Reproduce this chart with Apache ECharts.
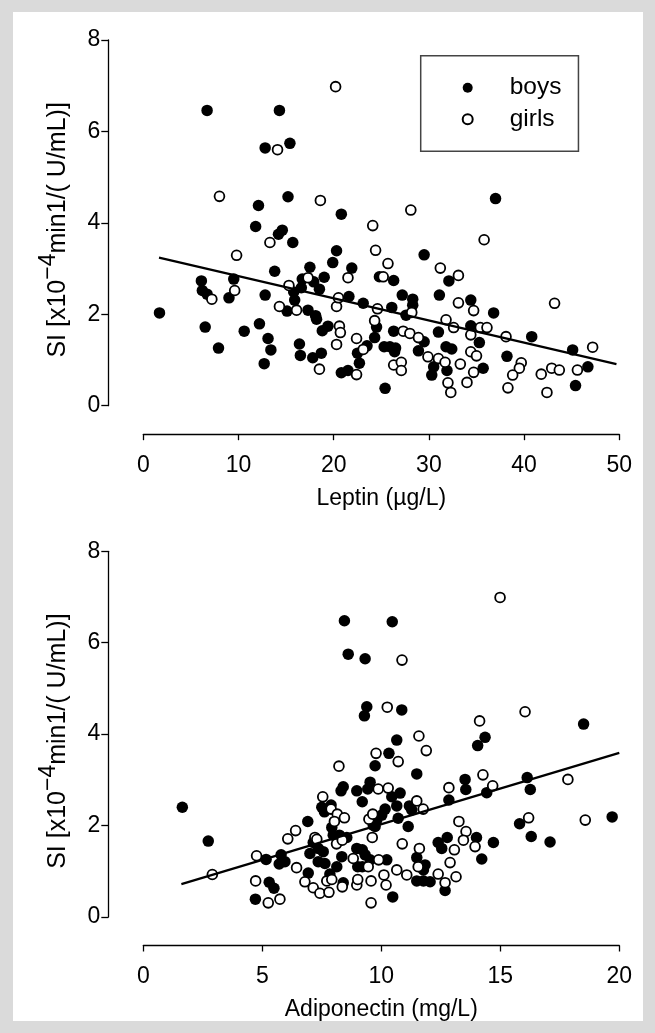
<!DOCTYPE html>
<html><head><meta charset="utf-8">
<script src="https://cdn.jsdelivr.net/npm/echarts@6/dist/echarts.min.js"></script>
<style>
html,body{margin:0;padding:0;background:#dadada;width:655px;height:1033px;overflow:hidden;}
#panel{position:absolute;left:13px;top:12px;width:630px;height:1009px;background:#fff;}
#chart{position:absolute;left:0;top:0;width:655px;height:1033px;}
</style></head><body>
<div id="panel"></div><div id="chart"></div>
<script>
const seriesNames = ['boys', 'girls'];
const leptinTitle = 'Leptin (µg/L)';
const adipoTitle = 'Adiponectin (mg/L)';

const leptinBoys = [
[6.7,6.46],[14.3,6.46],[12.8,5.64],[15.4,5.74],[12.1,4.38],[15.2,4.57],[20.8,4.19],[11.8,3.92],[14.6,3.84],[14.2,3.75],[37.0,4.53],[15.7,3.57],[20.3,3.39],[19.9,3.13],[13.8,2.94],[17.5,3.03],[21.9,3.01],[24.8,2.82],[19.0,2.81],[6.1,2.73],[9.5,2.77],[6.2,2.52],[6.7,2.44],[9.0,2.36],[12.8,2.42],[15.8,2.49],[15.9,2.31],[16.7,2.77],[17.9,2.71],[16.6,2.58],[18.5,2.55],[15.1,2.07],[17.3,2.09],[18.1,1.97],[18.2,1.89],[21.6,2.39],[23.1,2.24],[24.5,1.72],[1.7,2.03],[6.5,1.72],[10.6,1.63],[12.2,1.79],[7.9,1.26],[13.1,1.47],[13.4,1.22],[12.7,0.92],[16.4,1.35],[16.5,1.10],[17.8,1.05],[18.7,1.15],[18.8,1.64],[19.4,1.74],[23.5,1.31],[22.5,1.15],[24.3,1.49],[22.7,0.93],[20.8,0.72],[21.5,0.77],[29.5,3.30],[32.1,2.73],[26.3,2.74],[27.2,2.42],[28.3,2.33],[28.3,2.20],[31.1,2.42],[34.4,2.31],[36.8,2.03],[26.1,2.15],[27.6,1.98],[34.4,1.75],[31.0,1.61],[26.3,1.63],[29.5,1.40],[40.8,1.51],[45.1,1.22],[35.3,1.38],[25.3,1.29],[25.9,1.29],[26.5,1.26],[26.4,1.18],[28.9,1.20],[31.8,1.29],[32.4,1.24],[38.2,1.08],[30.5,0.85],[30.3,0.67],[31.9,0.77],[35.7,0.82],[46.7,0.85],[25.4,0.38],[45.4,0.44]
];
const leptinGirls = [
[20.2,6.98],[14.1,5.60],[8.0,4.58],[18.6,4.49],[24.1,3.94],[28.1,4.28],[13.3,3.57],[24.4,3.40],[9.8,3.29],[21.5,2.80],[9.6,2.52],[7.2,2.33],[15.3,2.63],[14.3,2.17],[16.1,2.09],[20.3,2.17],[20.5,2.36],[24.6,2.12],[24.3,1.86],[20.6,1.74],[20.7,1.60],[20.3,1.34],[18.5,0.80],[22.4,1.47],[23.1,1.23],[22.4,0.68],[35.8,3.63],[25.7,3.11],[31.2,3.01],[33.1,2.85],[25.2,2.82],[33.1,2.25],[34.7,2.08],[43.2,2.24],[28.2,2.04],[31.8,1.88],[32.6,1.71],[35.4,1.71],[36.1,1.71],[34.4,1.55],[27.3,1.63],[28.0,1.58],[28.9,1.49],[38.1,1.51],[47.2,1.28],[34.4,1.18],[35.0,1.09],[29.9,1.07],[31.0,1.03],[31.7,0.95],[33.3,0.91],[26.3,0.89],[27.1,0.95],[27.1,0.77],[34.7,0.73],[39.7,0.94],[39.5,0.82],[38.8,0.67],[41.8,0.69],[42.9,0.82],[43.7,0.78],[45.6,0.78],[32.0,0.50],[32.3,0.29],[34.0,0.51],[38.3,0.39],[42.4,0.29],[17.3,2.80]
];
const leptinFit = [[1.65,3.24],[49.7,0.91]];

const adipoBoys = [
[8.45,6.48],[8.61,5.75],[9.32,5.65],[9.39,4.60],[9.29,4.40],[10.46,6.46],[10.86,4.53],[18.5,4.22],[10.65,3.87],[14.36,3.93],[14.05,3.75],[9.74,3.31],[8.40,2.85],[8.31,2.76],[8.97,2.76],[9.53,2.95],[9.43,2.80],[9.20,2.52],[7.50,2.40],[7.61,2.30],[7.89,2.45],[6.91,2.09],[7.92,1.96],[7.98,1.79],[8.24,1.79],[8.55,1.74],[9.74,1.98],[7.14,1.63],[7.00,1.39],[7.35,1.50],[7.56,1.43],[7.63,1.17],[7.35,1.21],[8.34,1.32],[8.13,1.10],[8.97,1.50],[9.20,1.47],[9.32,1.36],[9.01,1.10],[9.20,1.10],[9.53,1.25],[7.84,0.94],[6.93,0.96],[8.40,0.75],[5.16,1.26],[5.79,1.36],[5.71,1.16],[5.95,1.21],[5.29,0.76],[5.49,0.63],[4.71,0.39],[1.64,2.40],[2.73,1.66],[10.32,3.58],[11.49,3.13],[13.52,3.01],[13.55,2.79],[16.13,3.05],[16.26,2.79],[14.43,2.72],[12.84,2.56],[10.79,2.71],[10.44,2.63],[10.65,2.43],[11.18,2.43],[11.28,2.34],[10.16,2.36],[10.02,2.23],[9.81,2.12],[9.66,2.01],[10.71,2.16],[11.13,1.98],[15.81,2.04],[19.70,2.19],[14.00,1.74],[14.71,1.63],[16.30,1.76],[17.09,1.64],[14.22,1.27],[12.77,1.74],[12.39,1.63],[12.54,1.50],[11.49,1.30],[11.84,1.14],[11.77,1.03],[11.49,0.79],[11.77,0.79],[12.05,0.77],[12.68,0.58],[10.23,1.25],[10.48,0.44]
];
const adipoGirls = [
[14.99,6.99],[10.87,5.62],[10.25,4.59],[14.13,4.29],[16.04,4.49],[11.58,3.96],[9.78,3.58],[8.22,3.30],[9.87,2.80],[7.54,2.63],[7.89,2.36],[8.15,2.25],[8.45,2.17],[8.03,2.09],[9.48,2.14],[9.64,2.25],[9.62,1.74],[6.40,1.89],[6.07,1.71],[7.21,1.74],[7.29,1.70],[8.12,1.60],[8.36,1.68],[8.82,1.28],[9.45,1.10],[9.89,1.25],[7.71,0.79],[7.92,0.82],[6.79,0.77],[6.44,1.08],[7.14,0.64],[7.42,0.52],[7.80,0.54],[8.36,0.66],[8.97,0.70],[9.01,0.82],[9.57,0.79],[9.57,0.31],[4.76,1.34],[4.72,0.79],[5.25,0.31],[5.74,0.39],[2.90,0.93],[11.89,3.64],[10.71,3.40],[14.27,3.11],[17.84,3.01],[12.84,2.83],[14.68,2.87],[10.29,2.82],[11.49,2.54],[11.76,2.36],[16.19,2.17],[18.57,2.12],[13.26,2.09],[13.56,1.87],[13.45,1.68],[13.94,1.54],[13.07,1.47],[12.89,1.19],[10.88,1.60],[11.60,1.50],[11.55,1.10],[12.39,0.94],[12.68,0.75],[13.14,0.88],[10.65,1.03],[11.07,0.92],[10.11,0.92],[10.20,0.70]
];
const adipoFit = [[1.6,0.72],[20.0,3.59]];

const FONT = "'Liberation Sans', Arial, Helvetica, sans-serif";
const INK = '#000';

function xAxisDef(gi, max, interval, title) {
  return {
    type: 'value', gridIndex: gi, min: 0, max: max, interval: interval,
    offset: 28.5, splitLine: {show: false},
    axisLine: {show: true, onZero: false, lineStyle: {color: INK, width: 1.3}},
    axisTick: {show: true, length: 6, lineStyle: {color: INK, width: 1.3}},
    axisLabel: {color: INK, fontSize: 23, fontFamily: FONT, margin: 20},
    name: title, nameLocation: 'middle', nameGap: 53,
    nameTextStyle: {color: INK, fontSize: 23, fontFamily: FONT}
  };
}
function yAxisDef(gi) {
  return {
    type: 'value', gridIndex: gi, min: 0, max: 8, interval: 2,
    offset: 35, splitLine: {show: false},
    axisLine: {show: true, onZero: false, lineStyle: {color: INK, width: 1.3}},
    axisTick: {show: true, length: 7, lineStyle: {color: INK, width: 1.3}},
    axisLabel: {color: INK, fontSize: 23, fontFamily: FONT, margin: 8},
    name: '{n|SI [x10}{s|−4}{e|min1/( U/mL)]}',
    nameLocation: 'middle', nameRotate: 90, nameGap: 30,
    nameTextStyle: {
      rich: {
        n: {color: INK, fontSize: 25, fontFamily: FONT},
        s: {color: INK, fontSize: 23, fontFamily: FONT, padding: [0, 0, 18, 0]},
        e: {color: INK, fontSize: 25, fontFamily: FONT, padding: [0, 14, 0, 0]}
      }
    }
  };
}
function boys(name, data, gi) {
  return {name: name, type: 'scatter', xAxisIndex: gi, yAxisIndex: gi, data: data,
    symbol: 'circle', symbolSize: 11.5, itemStyle: {color: INK, opacity: 1}, z: 2};
}
function girls(name, data, gi) {
  return {name: name, type: 'scatter', xAxisIndex: gi, yAxisIndex: gi, data: data,
    symbol: 'circle', symbolSize: 9.8,
    itemStyle: {color: '#fff', borderColor: INK, borderWidth: 1.8, opacity: 1}, z: 3};
}
function fit(data, gi) {
  return {name: 'fit', type: 'line', xAxisIndex: gi, yAxisIndex: gi, data: data,
    showSymbol: false, symbol: 'none', lineStyle: {color: INK, width: 2.2}, z: 4, silent: true};
}

const chart = echarts.init(document.getElementById('chart'), null, {renderer: 'canvas'});
chart.setOption({
  animation: false,
  backgroundColor: 'transparent',
  textStyle: {fontFamily: FONT},
  grid: [
    {left: 143.3, top: 40, width: 476, height: 365.7},
    {left: 143.3, top: 551.3, width: 476, height: 365.7}
  ],
  xAxis: [xAxisDef(0, 50, 10, leptinTitle), xAxisDef(1, 20, 5, adipoTitle)],
  yAxis: [yAxisDef(0), yAxisDef(1)],
  legend: {
    data: seriesNames, orient: 'vertical', left: 420.7, top: 55.7,
    padding: [19.5, 17, 19.5, 41], itemGap: 6.6, itemWidth: 10, itemHeight: 10,
    icon: 'circle', borderColor: '#444', borderWidth: 1.5, backgroundColor: '#fff',
    textStyle: {color: INK, fontSize: 24.5, fontFamily: FONT, padding: [0, 0, 0, 32]}
  },
  series: [
    boys(seriesNames[0], leptinBoys, 0), girls(seriesNames[1], leptinGirls, 0), fit(leptinFit, 0),
    boys(seriesNames[0], adipoBoys, 1), girls(seriesNames[1], adipoGirls, 1), fit(adipoFit, 1)
  ]
});
</script>
</body></html>
